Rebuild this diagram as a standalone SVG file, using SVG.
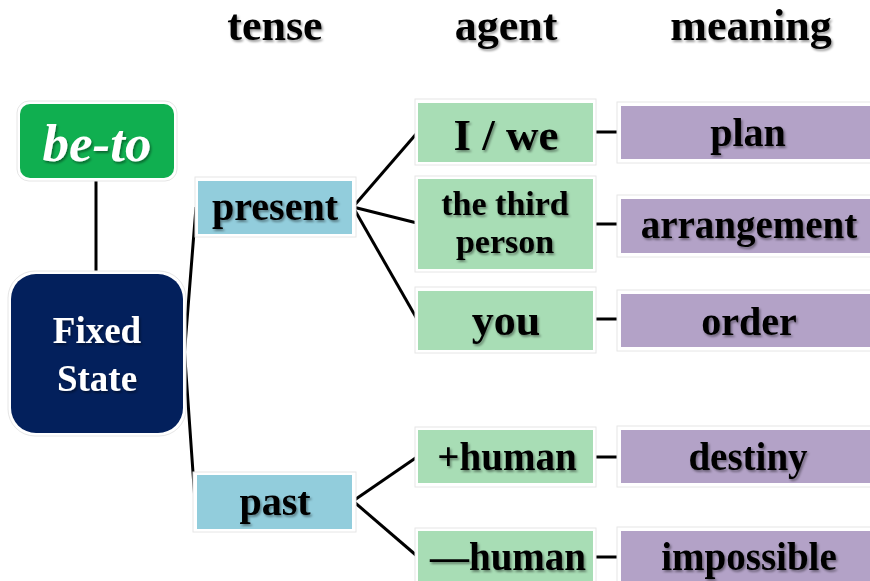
<svg xmlns="http://www.w3.org/2000/svg" width="870" height="581" viewBox="0 0 870 581">
<defs>
<filter id="sh" x="-10%" y="-20%" width="130%" height="150%">
<feDropShadow dx="1.5" dy="2" stdDeviation="1.2" flood-color="#000" flood-opacity="0.4"/>
</filter>
</defs>
<style>
text{font-family:"Liberation Serif","Times New Roman",serif;font-weight:bold;text-anchor:middle;fill:#000;filter:url(#sh)}
.frame{fill:#fff;stroke:#e6e6e6;stroke-width:1}
.tense{fill:#92cddc}
.agent{fill:#a8ddb5}
.mean{fill:#b3a2c7}
.w{fill:#fff}
.conn line,.conn polyline{stroke:#000;stroke-width:3;fill:none;stroke-linejoin:round}
</style>
<rect width="870" height="581" fill="#fff"/>
<g id="headings">
<text x="275" y="40" font-size="44">tense</text>
<text x="506" y="40" font-size="44">agent</text>
<text x="751" y="40" font-size="44">meaning</text>
</g>
<g class="conn" id="connectors">
<line x1="96" y1="178" x2="96" y2="274"/>
<polyline points="196,207 184.5,352 195,501"/>
<line x1="353" y1="207" x2="417" y2="133"/>
<line x1="353" y1="207" x2="417" y2="223"/>
<line x1="353" y1="207" x2="417" y2="319"/>
<line x1="353" y1="501" x2="417" y2="457"/>
<line x1="353" y1="501" x2="417" y2="556"/>
<line x1="595" y1="132" x2="618" y2="132"/>
<line x1="595" y1="224" x2="618" y2="224"/>
<line x1="595" y1="319" x2="618" y2="319"/>
<line x1="595" y1="457" x2="618" y2="457"/>
<line x1="595" y1="557" x2="618" y2="557"/>
</g>
<g id="be-to">
<rect class="frame" x="17" y="101" width="160" height="80" rx="12"/>
<rect x="20" y="104" width="154" height="74" rx="10" fill="#10af50"/>
<text class="w" x="97" y="161" font-size="53" font-style="italic">be-to</text>
</g>
<g id="fixed-state">
<rect class="frame" x="8" y="271" width="178" height="165" rx="27"/>
<rect x="11" y="274" width="172" height="159" rx="25" fill="#03205c"/>
<text class="w" x="97" y="343" font-size="37">Fixed</text>
<text class="w" x="97" y="391" font-size="37">State</text>
</g>
<g id="present">
<rect class="frame" x="195" y="177" width="161" height="60"/>
<rect class="tense" x="198" y="181" width="154" height="53"/>
<text x="275" y="220" font-size="40">present</text>
</g>
<g id="past">
<rect class="frame" x="193" y="472" width="163" height="60"/>
<rect class="tense" x="197" y="475" width="155" height="54"/>
<text x="275" y="515" font-size="40">past</text>
</g>
<g id="i-we">
<rect class="frame" x="415" y="99" width="181" height="66"/>
<rect class="agent" x="418" y="103" width="175" height="59"/>
<text x="506" y="150" font-size="45">I / we</text>
</g>
<g id="third-person">
<rect class="frame" x="415" y="176" width="181" height="96"/>
<rect class="agent" x="418" y="179" width="175" height="90"/>
<text x="505" y="215" font-size="34">the third</text>
<text x="505" y="253" font-size="34">person</text>
</g>
<g id="you">
<rect class="frame" x="415" y="287" width="181" height="66"/>
<rect class="agent" x="418" y="291" width="175" height="59"/>
<text x="506" y="335" font-size="44">you</text>
</g>
<g id="plus-human">
<rect class="frame" x="415" y="427" width="181" height="60"/>
<rect class="agent" x="418" y="430" width="175" height="53"/>
<text x="507" y="470" font-size="39">+human</text>
</g>
<g id="minus-human">
<rect class="frame" x="415" y="528" width="181" height="60"/>
<rect class="agent" x="418" y="531" width="175" height="55"/>
<text x="508" y="570" font-size="39">—human</text>
</g>
<g id="plan">
<rect class="frame" x="617" y="102" width="260" height="61"/>
<rect class="mean" x="621" y="106" width="260" height="53"/>
<text x="748" y="146" font-size="40">plan</text>
</g>
<g id="arrangement">
<rect class="frame" x="617" y="195" width="260" height="62"/>
<rect class="mean" x="621" y="199" width="260" height="54"/>
<text x="749" y="238" font-size="39">arrangement</text>
</g>
<g id="order">
<rect class="frame" x="617" y="290" width="260" height="61"/>
<rect class="mean" x="621" y="294" width="260" height="53"/>
<text x="749" y="335" font-size="40">order</text>
</g>
<g id="destiny">
<rect class="frame" x="617" y="426" width="260" height="61"/>
<rect class="mean" x="621" y="430" width="260" height="53"/>
<text x="748" y="470" font-size="39">destiny</text>
</g>
<g id="impossible">
<rect class="frame" x="617" y="527" width="260" height="61"/>
<rect class="mean" x="621" y="531" width="260" height="55"/>
<text x="749" y="570" font-size="39">impossible</text>
</g>
</svg>
